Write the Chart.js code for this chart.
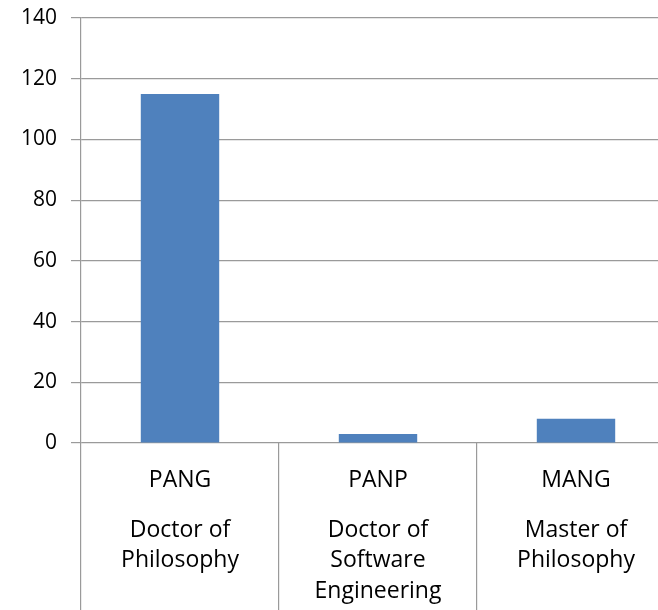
<!DOCTYPE html>
<html>
<head>
<meta charset="utf-8">
<script src="https://cdn.jsdelivr.net/npm/chart.js@4/dist/chart.umd.min.js"></script>
<style>
  html, body { margin: 0; padding: 0; background: #fff; overflow: hidden; }
  #wrap { width: 676px; height: 610px; position: relative; }
</style>
</head>
<body>
<div id="wrap"><canvas id="c"></canvas></div>
<script>
const codes = ['PANG', 'PANP', 'MANG'];
const descriptions = [
  ['Doctor of', 'Philosophy'],
  ['Doctor of', 'Software', 'Engineering'],
  ['Master of', 'Philosophy']
];
const values = [115, 3, 8];
const yTicks = { min: 0, max: 140, step: 20 };

const gridColor = '#9a9a9a';
const fontFamily = "'Open Sans', sans-serif";

new Chart(document.getElementById('c'), {
  type: 'bar',
  data: {
    labels: codes,
    datasets: [{
      data: values,
      backgroundColor: '#4F81BD',
      borderWidth: 0,
      barPercentage: 0.396,
      categoryPercentage: 1.0,
      xAxisID: 'x',
      yAxisID: 'y'
    }]
  },
  options: {
    responsive: true,
    maintainAspectRatio: false,
    animation: false,
    layout: { padding: { top: 18, right: 1, bottom: 0, left: 0 } },
    plugins: { legend: { display: false }, tooltip: { enabled: false } },
    scales: {
      y: {
        min: yTicks.min,
        max: yTicks.max,
        ticks: {
          stepSize: yTicks.step,
          color: '#000',
          padding: 14,
          font: { family: fontFamily, size: 21 }
        },
        grid: { color: gridColor, lineWidth: 1.2, tickLength: 10, drawTicks: true },
        border: { display: true, color: gridColor, width: 1.2 },
        afterFit: s => { s.width = 81; s.paddingTop = 0; s.paddingBottom = 0; }
      },
      x: {
        type: 'category',
        position: 'bottom',
        weight: 0,
        offset: true,
        grid: {
          offset: true,
          drawOnChartArea: false,
          drawTicks: true,
          tickLength: 170,
          color: gridColor,
          lineWidth: 1.2
        },
        border: { display: false },
        ticks: {
          color: '#000',
          padding: -146,
          maxRotation: 0,
          autoSkip: false,
          font: { family: fontFamily, size: 23 }
        },
        afterFit: s => { s.height = 50; }
      },
      x2: {
        type: 'category',
        position: 'bottom',
        weight: 1,
        offset: true,
        labels: descriptions,
        grid: { display: false, drawTicks: false },
        border: { display: false },
        ticks: {
          color: '#000',
          padding: 22,
          maxRotation: 0,
          autoSkip: false,
          font: { family: fontFamily, size: 23, lineHeight: '30.5px' }
        },
        afterFit: s => { s.height = 117; }
      }
    }
  }
});
</script>
</body>
</html>
